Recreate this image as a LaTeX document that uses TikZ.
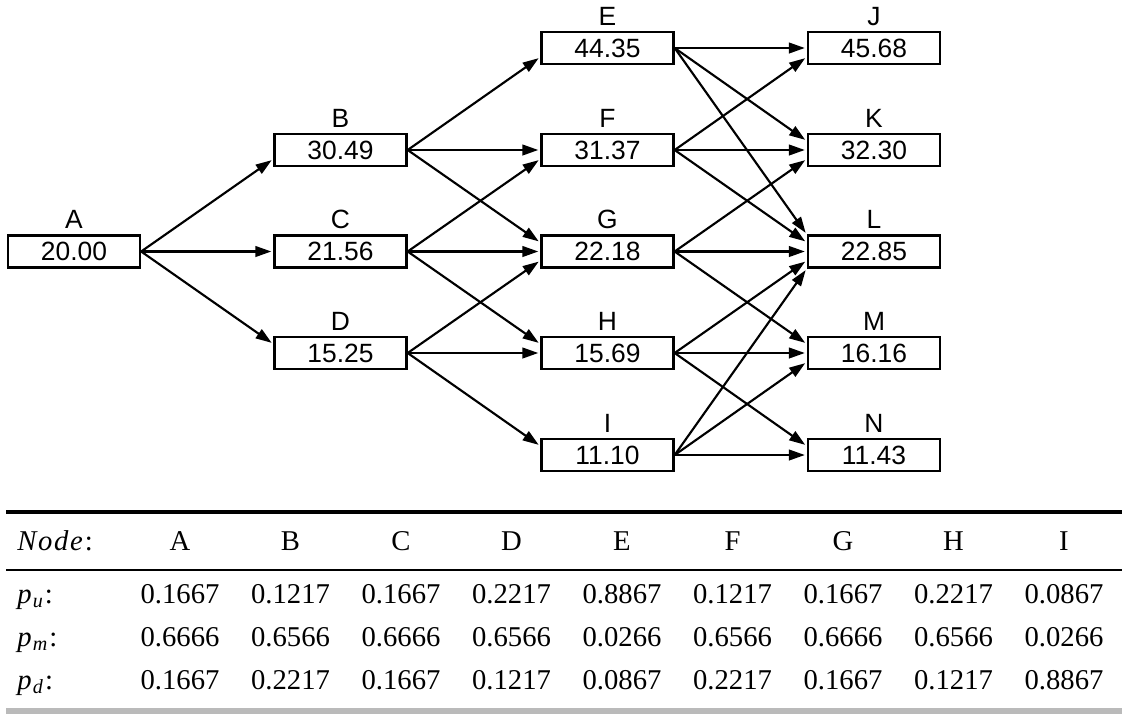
\documentclass[tikz,border=0pt]{standalone}
\usepackage{fontspec}
\setmainfont{Liberation Serif}
\newfontfamily\treefont{Liberation Sans}
\usetikzlibrary{arrows.meta,calc}
\definecolor{barg}{gray}{0.73}
\begin{document}
\begin{tikzpicture}[x=0.75pt,y=-0.75pt,
  box/.style={draw, line width=1.75pt, minimum width=99pt, minimum height=24pt, inner sep=0pt,
    font=\treefont\fontsize{19.8}{20}\selectfont},
  lbl/.style={anchor=base, inner sep=0pt, font=\treefont\fontsize{19.8}{20}\selectfont},
  conn/.style={line width=1.6pt, -{Triangle[length=12pt,width=8pt]}, shorten >=1.5pt},
  cell/.style={anchor=base, inner sep=0pt, font=\fontsize{21.5}{22}\selectfont},
  rowlbl/.style={anchor=base west, inner sep=0pt, font=\fontsize{21.5}{22}\selectfont},
  toprule/.style={line width=2.4pt},
  midrule/.style={line width=1.5pt}]
\useasboundingbox (0,0) rectangle (1122,714);
% tree nodes
\foreach \n/\x/\y/\v in {A/74/251.5/20.00,
  B/340.5/150/30.49, C/340.5/251.5/21.56, D/340.5/353/15.25,
  E/607.5/48/44.35, F/607.5/150/31.37, G/607.5/251.5/22.18, H/607.5/353/15.69, I/607.5/455/11.10,
  J/874/48/45.68, K/874/150/32.30, L/874/251.5/22.85, M/874/353/16.16, N/874/455/11.43}{
  \node[box] (\n) at (\x,\y) {\v};
  \node[lbl] (\n lab) at (\x,\y-23) {\n};
}
% connectors
\foreach \s/\t/\d in {A/B/9, A/C/0, A/D/-9,
  B/E/9, B/F/0, B/G/-9,
  C/F/9, C/G/0, C/H/-9,
  D/G/9, D/H/0, D/I/-9,
  E/J/0, E/K/-9, E/L/-17,
  F/J/9, F/K/0, F/L/-9,
  G/K/9, G/L/0, G/M/-9,
  H/L/9, H/M/0, H/N/-9,
  I/L/17, I/M/9, I/N/0}{
  \draw[conn] (\s.east) -- ($(\t.west)+(0,\d)$);
}
% table
\draw[toprule] (6,512) -- (1122,512);
\draw[midrule] (6,569.5) -- (1122,569.5);
\fill[barg] (6,708) rectangle (1122,714);
\node[rowlbl] (hdr) at (17,550) {{\itshape\addfontfeature{LetterSpace=6}Node}\kern1.5pt:};
\node[rowlbl] (pu) at (17,603) {\textit{p}\kern1pt\textsubscript{\textit{u}}\kern1pt:};
\node[rowlbl] (pm) at (17,646) {\textit{p}\kern1pt\textsubscript{\textit{m}}\kern1pt:};
\node[rowlbl] (pd) at (17,689) {\textit{p}\kern1pt\textsubscript{\textit{d}}\kern1pt:};
\foreach \c/\x/\a/\b/\d [count=\i] in {
  A/180/0.1667/0.6666/0.1667,
  B/290.5/0.1217/0.6566/0.2217,
  C/401/0.1667/0.6666/0.1667,
  D/511.5/0.2217/0.6566/0.1217,
  E/622/0.8867/0.0266/0.0867,
  F/732.5/0.1217/0.6566/0.2217,
  G/843/0.1667/0.6666/0.1667,
  H/953.5/0.2217/0.6566/0.1217,
  I/1064/0.0867/0.0266/0.8867}{
  \node[cell] (h\i) at (\x,550) {\c};
  \node[cell] (u\i) at (\x,603) {\a};
  \node[cell] (m\i) at (\x,646) {\b};
  \node[cell] (d\i) at (\x,689) {\d};
}
\end{tikzpicture}
\end{document}
